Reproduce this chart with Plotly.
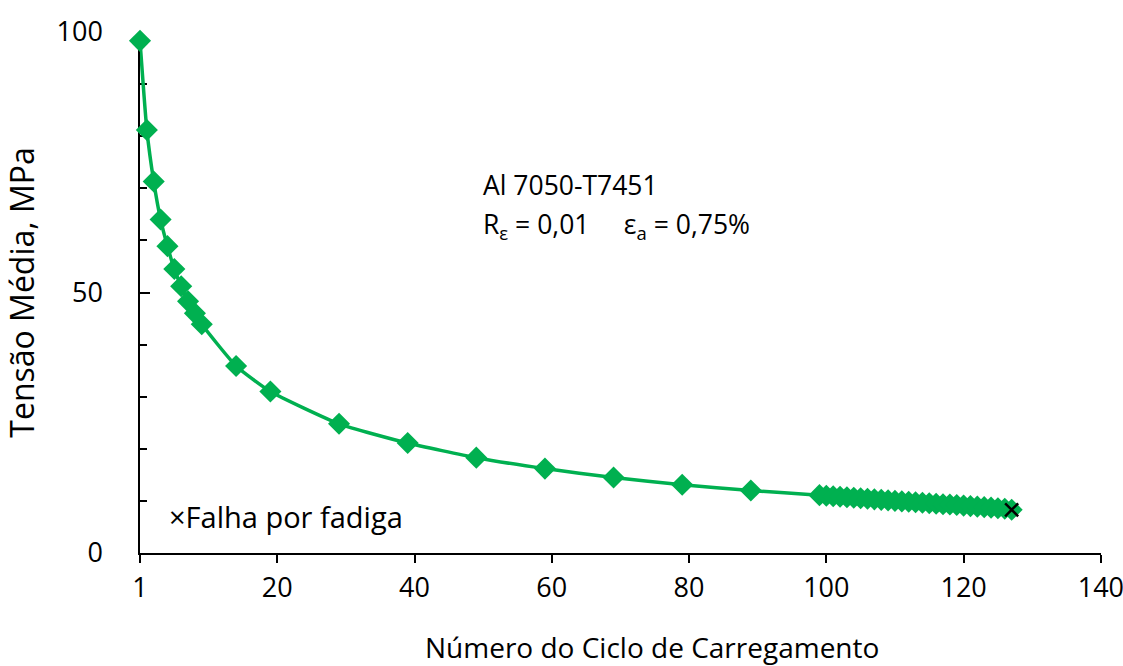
import plotly.graph_objects as go

# Mean stress per loading cycle (Al 7050-T7451, strain-controlled test)
ciclos = [1, 2, 3, 4, 5, 6, 7, 8, 9, 10, 15, 20, 30, 40, 50, 60, 70, 80, 90,
          100, 101, 102, 103, 104, 105, 106, 107, 108, 109, 110, 111, 112, 113, 114,
          115, 116, 117, 118, 119, 120, 121, 122, 123, 124, 125, 126, 127, 128]
tensao_media = [98.3, 81.2, 71.3, 64.0, 58.9, 54.5, 51.2, 48.3, 46.0, 43.9, 35.9, 31.0,
                24.8, 21.1, 18.3, 16.2, 14.5, 13.1, 12.0,
                11.1, 11.0, 10.9, 10.8, 10.7, 10.6, 10.5, 10.4, 10.3, 10.2, 10.1, 10.0,
                9.9, 9.85, 9.75, 9.65, 9.55, 9.45, 9.35, 9.3, 9.2, 9.1, 9.0, 8.9, 8.8,
                8.7, 8.6, 8.5, 8.3]

# Fatigue failure point
ciclo_falha = [128]
tensao_falha = [8.3]

# Axis ticks
x_tickvals = [1, 21, 41, 61, 81, 101, 121, 141]
x_ticktext = ["1", "20", "40", "60", "80", "100", "120", "140"]
y_tickvals = [0, 50, 100]

FONT = "Open Sans"
VERDE = "#00B050"
NBSP = "\u00a0"

fig = go.Figure()

fig.add_trace(go.Scatter(
    x=ciclos, y=tensao_media,
    mode="lines+markers",
    line=dict(color=VERDE, width=3.5, shape="spline", smoothing=0.5),
    marker=dict(symbol="diamond", size=17, color=VERDE),
    cliponaxis=False,
    showlegend=False,
))

fig.add_trace(go.Scatter(
    x=ciclo_falha, y=tensao_falha,
    mode="markers",
    marker=dict(symbol="x-thin", size=13, color="black",
                line=dict(color="black", width=2.5)),
    cliponaxis=False,
    showlegend=False,
))

fig.update_layout(
    width=1123, height=666,
    margin=dict(l=140, r=22, t=27, b=113),
    paper_bgcolor="white", plot_bgcolor="white",
    font=dict(family=FONT, size=25, color="black"),
    xaxis=dict(
        range=[1, 141.02], tickvals=x_tickvals, ticktext=x_ticktext,
        showgrid=False, zeroline=False, automargin=False, layer="below traces",
        showline=True, linecolor="black", linewidth=1.5,
        ticks="outside", ticklen=8, tickwidth=1.5, tickcolor="black",
        ticklabelstandoff=2, ticklabeloverflow="allow",
        tickfont=dict(size=27),
    ),
    yaxis=dict(
        range=[0, 100], tickvals=y_tickvals,
        showgrid=False, zeroline=False, layer="below traces",
        showline=True, linecolor="black", linewidth=1.5,
        ticks="inside", ticklen=10, tickwidth=1.5, tickcolor="black",
        minor=dict(dtick=10, ticks="inside", ticklen=7, tickwidth=1.5, tickcolor="black"),
        ticklabelstandoff=30,
        tickfont=dict(size=27),
        title=dict(text="Tensão Média, MPa", font=dict(size=32), standoff=12),
    ),
    annotations=[
        dict(x=0.5325, y=-0.180, xref="paper", yref="paper",
             text="Número do Ciclo de Carregamento", showarrow=False,
             xanchor="center", yanchor="middle", font=dict(size=28)),
        dict(x=50.7, y=70.6, xref="x", yref="y", text="Al 7050-T7451",
             showarrow=False, xanchor="left", yanchor="middle", font=dict(size=26.5)),
        dict(x=50.7, y=62.8, xref="x", yref="y",
             text="R<sub>ε</sub> = 0,01" + NBSP * 5 + "ε<sub>a</sub> = 0,75%",
             showarrow=False, xanchor="left", yanchor="middle", font=dict(size=26.5)),
        dict(x=5.0, y=7.0, xref="x", yref="y", text="×Falha por fadiga",
             showarrow=False, xanchor="left", yanchor="middle", font=dict(size=29)),
    ],
)

fig.write_html("out.html")
